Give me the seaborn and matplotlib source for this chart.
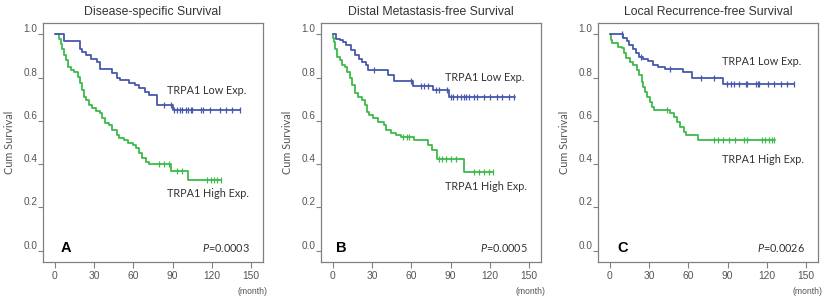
import numpy as np
import pandas as pd
import matplotlib
matplotlib.use("Agg")
import matplotlib.pyplot as plt
import seaborn as sns

# ---------------- data ----------------
titles = ["Disease-specific Survival", "Distal Metastasis-free Survival", "Local Recurrence-free Survival"]
panel_letters = ["A", "B", "C"]
p_values = ["0.0003", "0.0005", "0.0026"]
x_ticks = [0, 30, 60, 90, 120, 150]
y_ticks = [0.0, 0.2, 0.4, 0.6, 0.8, 1.0]
group_names = ["TRPA1 Low Exp.", "TRPA1 High Exp."]

# Panel A
a_low_t = [7, 19, 21, 23.6, 28, 32.6, 34.3, 44, 47.3, 50, 56.7, 61.3, 64.3, 68.9, 72, 78.3, 90.2]
a_low_s = [0.969, 0.934, 0.918, 0.903, 0.888, 0.872, 0.839, 0.819, 0.799, 0.788, 0.777, 0.765, 0.75, 0.734, 0.719, 0.673, 0.650]
a_low_end = 141.5
a_low_cens = [83.4, 88.5, 91, 93, 95.6, 97.4, 99.9, 102, 103.8, 105.1, 111.9, 113.1, 118.2, 125.8, 130.9, 135.5, 141.4]

a_high_t = [3.3, 4.6, 5.8, 7.1, 8.9, 10.4, 12.2, 14.7, 17.8, 19.3, 21.1, 22.4, 24.2, 26.2, 28.7, 31.8, 34.6, 36.4,
            38.4, 41.4, 44, 47.3, 49, 52.9, 56.2, 59.7, 61.8, 64.3, 66.9, 69.4, 71.9, 88.5, 101.7]
a_high_s = [0.978, 0.957, 0.934, 0.903, 0.880, 0.849, 0.834, 0.826, 0.803, 0.773, 0.742, 0.711, 0.696, 0.673, 0.658,
            0.645, 0.635, 0.612, 0.588, 0.581, 0.558, 0.535, 0.519, 0.512, 0.496, 0.488, 0.473, 0.450, 0.427, 0.411,
            0.40, 0.37, 0.327]
a_high_end = 126.6
a_high_cens = [79.6, 83.4, 87.2, 93.6, 97.4, 116.4, 119, 121.5, 124.1, 126.6]

# Panel B
b_low_t = [2.8, 5.3, 7.9, 10.4, 13.7, 16.7, 19.8, 22.3, 25.6, 26.9, 42, 47, 61, 76.7, 88.8]
b_low_s = [0.98, 0.972, 0.965, 0.949, 0.926, 0.903, 0.888, 0.872, 0.857, 0.834, 0.811, 0.785, 0.761, 0.742, 0.711]
b_low_end = 139.3
b_low_cens = [31.1, 59.6, 67.4, 69.9, 72.5, 78.5, 81.1, 86.9, 90, 92, 95, 97.6, 100.1, 102.1, 103.9, 107.7, 110.2,
              115.3, 120.4, 125.4, 129.2, 134.3, 138.1]

b_high_t = [0.5, 1, 2, 3.5, 5.3, 7.1, 9.1, 11.1, 12.9, 14.7, 16.7, 19.2, 22.3, 24.3, 26.3, 27.3, 30.7, 34.5, 39,
            40.8, 44.6, 48.4, 52.2, 62.3, 72.5, 75.9, 79.2, 100.5]
b_high_s = [0.985, 0.965, 0.934, 0.895, 0.880, 0.857, 0.849, 0.826, 0.796, 0.765, 0.727, 0.711, 0.696, 0.673, 0.642,
            0.627, 0.612, 0.596, 0.581, 0.558, 0.542, 0.535, 0.527, 0.512, 0.488, 0.465, 0.422, 0.365]
b_high_end = 122.3
b_high_cens = [53.5, 56.8, 58.5, 81.1, 83.6, 86.2, 90, 93.8, 107.7, 111.5, 115.3, 119.1, 122.3]

# Panel C
c_low_t = [10.2, 12.8, 14.8, 17.9, 19.9, 22.5, 25.5, 29.4, 33.2, 37, 42.1, 56.2, 62.6, 86.8]
c_low_s = [0.985, 0.97, 0.95, 0.93, 0.915, 0.895, 0.885, 0.875, 0.86, 0.85, 0.84, 0.825, 0.80, 0.772]
c_low_end = 141
c_low_cens = [9, 24, 46, 70, 79.2, 89.7, 92.3, 94.8, 98.6, 103.8, 105.1, 111.5, 112.8, 114, 120.5, 125.5, 130.6,
              135.7, 140.8]

c_high_t = [1.3, 2, 6.4, 9, 10.7, 12.3, 15.3, 17.9, 20.4, 22.5, 24.3, 25.6, 26.8, 28.6, 30.7, 32, 34, 46, 49,
            51.6, 53.6, 56.7, 58, 67.5]
c_high_s = [0.975, 0.958, 0.943, 0.935, 0.912, 0.889, 0.873, 0.858, 0.835, 0.812, 0.781, 0.758, 0.735, 0.712,
            0.689, 0.665, 0.650, 0.635, 0.619, 0.596, 0.573, 0.55, 0.535, 0.511]
c_high_end = 126.4
c_high_cens = [44, 79.2, 83, 86.8, 90.7, 95.8, 102.2, 104.8, 116.3, 118.8, 121.4, 124, 125.3]

panels = [
    [(a_low_t, a_low_s, a_low_end, a_low_cens), (a_high_t, a_high_s, a_high_end, a_high_cens)],
    [(b_low_t, b_low_s, b_low_end, b_low_cens), (b_high_t, b_high_s, b_high_end, b_high_cens)],
    [(c_low_t, c_low_s, c_low_end, c_low_cens), (c_high_t, c_high_s, c_high_end, c_high_cens)],
]

# ---------------- style ----------------
sns.set_style("white")
plt.rcParams["font.family"] = ["Liberation Sans", "DejaVu Sans"]
plt.rcParams["mathtext.fontset"] = "custom"
plt.rcParams["mathtext.it"] = "Lato:italic"
plt.rcParams["mathtext.rm"] = "Lato"

colors = {"TRPA1 Low Exp.": "#4658ad", "TRPA1 High Exp.": "#3dba4a"}
spine_col = "#808080"
text_gray = "#555555"

W, H = 825, 298
fig = plt.figure(figsize=(W / 100, H / 100), dpi=100)

ax_lefts = [43, 321, 598]
ax_w, ax_top, ax_bot = 220, 23, 262

low_lab_y = [0.717, 0.773, 0.841]
high_lab_y = [0.285, 0.315, 0.43]
letter_x = [0.078, 0.069, 0.086]

for i in range(3):
    ax = fig.add_axes([ax_lefts[i] / W, (H - ax_bot) / H, ax_w / W, (ax_bot - ax_top) / H])
    rows = []
    cens_rows = []
    for g, (t, s, end, cens) in zip(group_names, panels[i]):
        xs = np.array([0.0] + list(t) + [end])
        ys = np.array([1.0] + list(s) + [s[-1]])
        for xv, yv in zip(xs, ys):
            rows.append({"month": xv, "surv": yv, "group": g})
        for c in cens:
            idx = np.searchsorted(xs, c, side="right") - 1
            cens_rows.append({"month": c, "surv": ys[idx], "group": g})
    df = pd.DataFrame(rows)
    dfc = pd.DataFrame(cens_rows)
    # draw high first so low is on top
    for g in group_names[::-1]:
        sub = df[df.group == g]
        sns.lineplot(data=sub, x="month", y="surv", color=colors[g], drawstyle="steps-post",
                     estimator=None, sort=False, lw=1.3, ax=ax, legend=False)
        subc = dfc[dfc.group == g]
        sns.scatterplot(data=subc, x="month", y="surv", marker="|", s=16, linewidth=0.9,
                        color=colors[g], ax=ax, legend=False, zorder=3)

    ax.set_xlim(-9, 159)
    ax.set_ylim(-0.052, 1.052)
    ax.set_xticks(x_ticks)
    ax.set_xticklabels([str(v) for v in x_ticks])
    ax.set_yticks(y_ticks)
    ax.set_yticklabels([f"{v:.1f}" for v in y_ticks])
    ax.tick_params(axis="x", direction="out", length=4.5, width=0.8, color=spine_col,
                   labelsize=7.4, labelcolor=text_gray, pad=2, bottom=True)
    ax.tick_params(axis="y", direction="out", length=3.5, width=0.8, color=spine_col,
                   labelsize=7.2, labelcolor=text_gray, pad=0.5, left=True)
    for lab in ax.get_yticklabels():
        lab.set_verticalalignment("bottom")
    for sp in ax.spines.values():
        sp.set_visible(True)
        sp.set_color(spine_col)
        sp.set_linewidth(0.9)
    ax.set_xlabel("")
    ax.set_ylabel("Cum Survival", fontsize=7.8, color=text_gray, family=["Lato", "DejaVu Sans"])
    ax.yaxis.set_label_coords(-28 / ax_w, 0.5)
    ax.set_title(titles[i], fontsize=8.8, color="#333333", pad=6)

    ax.text(0.565, low_lab_y[i], group_names[0], transform=ax.transAxes, fontsize=7.8,
            family=["Lato", "DejaVu Sans"], color="#333333", va="center", ha="left")
    ax.text(0.565, high_lab_y[i], group_names[1], transform=ax.transAxes, fontsize=7.8,
            family=["Lato", "DejaVu Sans"], color="#333333", va="center", ha="left")
    ax.text(letter_x[i], 0.06, panel_letters[i], transform=ax.transAxes, fontsize=10.5,
            fontweight="bold", color="black", va="center", ha="left")
    ax.text(0.942, 0.06, r"$\mathit{P}$=" + p_values[i], transform=ax.transAxes, fontsize=7.8,
            family=["Lato", "DejaVu Sans"], color="#333333", va="center", ha="right")
    ax.text(1.02, -0.125, "(month)", transform=ax.transAxes, fontsize=6.2,
            color=text_gray, va="center", ha="right")

fig.savefig("out.png", dpi=100)
